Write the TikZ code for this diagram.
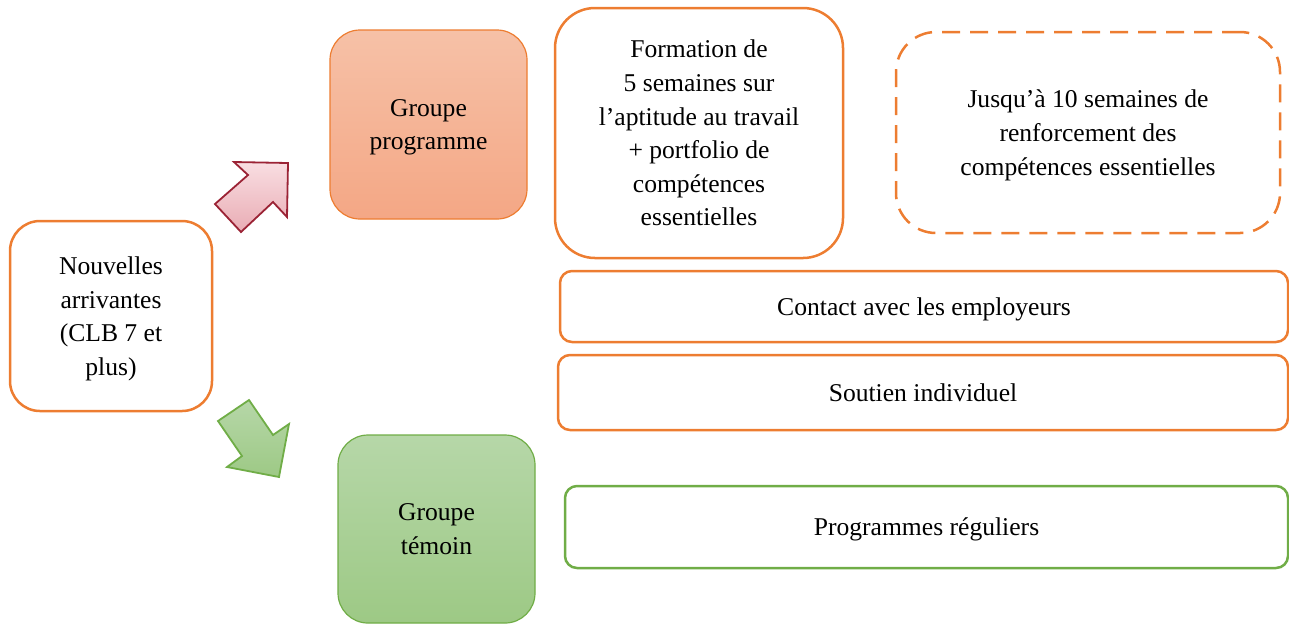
\documentclass[tikz,border=0pt]{standalone}
\usepackage{fontspec}
\setmainfont{Liberation Serif}

\definecolor{boxorange}{HTML}{ED7D31}
\definecolor{boxgreen}{HTML}{70AD47}
\definecolor{arrowred}{HTML}{9B2335}
\definecolor{arrowtop}{HTML}{F9DEE2}
\definecolor{arrowbot}{HTML}{E9ACB4}
\definecolor{progtop}{HTML}{F6C1A7}
\definecolor{progbot}{HTML}{F4A785}
\definecolor{temtop}{HTML}{B6D7A8}
\definecolor{tembot}{HTML}{9DC985}

\tikzset{
  roundbox/.style={draw=boxorange, line width=1.25pt, rounded corners=15pt, align=center,
    inner sep=0pt, text depth=-3pt, font=\fontsize{12.8}{16.8}\selectfont},
  groupbox/.style={roundbox, line width=0.6pt},
}

\begin{document}
\begin{tikzpicture}[x=0.5pt, y=-0.5pt]
\useasboundingbox (0,0) rectangle (1289,623);

% Start box
\node[roundbox, minimum width=101pt, minimum height=95pt] (nouv) at (111,316)
  {Nouvelles\\arrivantes\\(CLB 7 et\\plus)};

% Block arrows
\draw[arrowred, line width=0.9pt, top color=arrowtop, bottom color=arrowbot] (234,162) -- (288,163) -- (287,217) -- (273,202) -- (241,232) -- (215,204) -- (248,175) -- cycle; % to program group
\draw[boxgreen, line width=0.9pt, top color=temtop, bottom color=tembot] (218,421) -- (249,400) -- (273,435) -- (289,424) -- (279,477) -- (227,467) -- (242,456) -- cycle; % to control group

% The two groups
\node[groupbox, minimum width=98.5pt, minimum height=94.5pt, top color=progtop, bottom color=progbot] (prog) at (428.5,124.5) {Groupe\\programme};
\node[groupbox, draw=boxgreen, minimum width=98.5pt, minimum height=94pt, top color=temtop, bottom color=tembot] (temoin) at (436.5,529) {Groupe\\témoin};

% Program components
\node[roundbox, rounded corners=20pt, minimum width=144pt, minimum height=125pt] (form) at (699,133)
  {Formation de\\5 semaines sur\\l’aptitude au travail\\+ portfolio de\\compétences\\essentielles};
\node[roundbox, rounded corners=20pt, dash pattern=on 9pt off 5pt, minimum width=192pt, minimum height=100.5pt] (jusq) at (1088,132.5)
  {Jusqu’à 10 semaines de\\renforcement des\\compétences essentielles};
\node[roundbox, rounded corners=6pt, minimum width=364pt, minimum height=35.5pt] (contact) at (924,306.5) {Contact avec les employeurs};
\node[roundbox, rounded corners=6pt, minimum width=365pt, minimum height=37.5pt] (soutien) at (923,392.5) {Soutien individuel};

% Control group
\node[roundbox, draw=boxgreen, rounded corners=6pt, minimum width=361.5pt, minimum height=41pt] (reg) at (926.5,527) {Programmes réguliers};

\end{tikzpicture}
\end{document}
